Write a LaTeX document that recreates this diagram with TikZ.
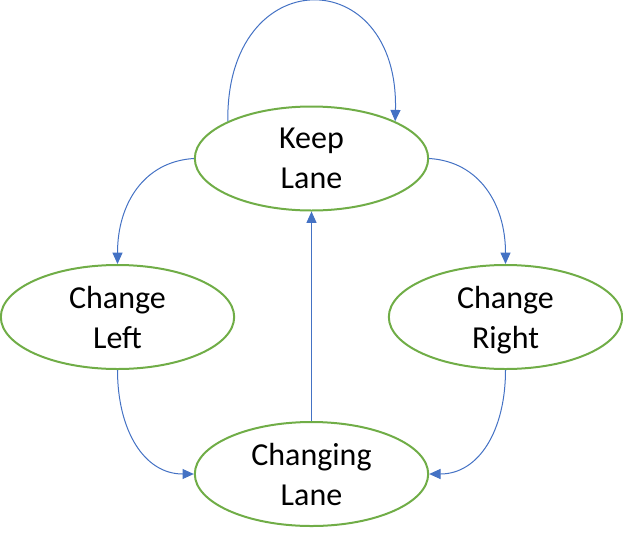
\documentclass[tikz,border=0pt]{standalone}
\usepackage{fontspec}
\setmainfont{Carlito}
\usetikzlibrary{arrows.meta,shapes.geometric}
\definecolor{stategreen}{HTML}{70AD47}
\definecolor{linkblue}{HTML}{4472C4}
\begin{document}
\begin{tikzpicture}[x=0.75pt,y=-0.75pt,
  state/.style={draw=stategreen,line width=1.5pt,ellipse,inner sep=0pt,
    minimum width=175pt,minimum height=78pt,align=center,text depth=0pt,
    font=\fontsize{24}{30}\selectfont},
  link/.style={draw=linkblue,line width=0.75pt,-{Triangle[length=8.5pt,width=7.5pt]},color=linkblue}]
\useasboundingbox (0,0) rectangle (623,535);

\node[state] (keep) at (311.5,158.5) {Keep\\Lane};
\node[state] (left) at (117.5,317) {Change\\Left};
\node[state] (right) at (505.5,317) {Change\\Right};
\node[state] (changing) at (311.5,474) {Changing\\Lane};

\draw[link] (keep.156) .. controls +(-2,-160) and +(4,-160) .. (keep.24);
\draw[link] (keep.west) .. controls +(-50,3) and +(0,-60) .. (left.north);
\draw[link] (keep.east) .. controls +(50,3) and +(0,-60) .. (right.north);
\draw[link] (left.south) .. controls +(0,60) and +(-50,0) .. (changing.west);
\draw[link] (right.south) .. controls +(0,60) and +(50,0) .. (changing.east);
\draw[link] (changing.north) -- (keep.south);
\end{tikzpicture}
\end{document}
